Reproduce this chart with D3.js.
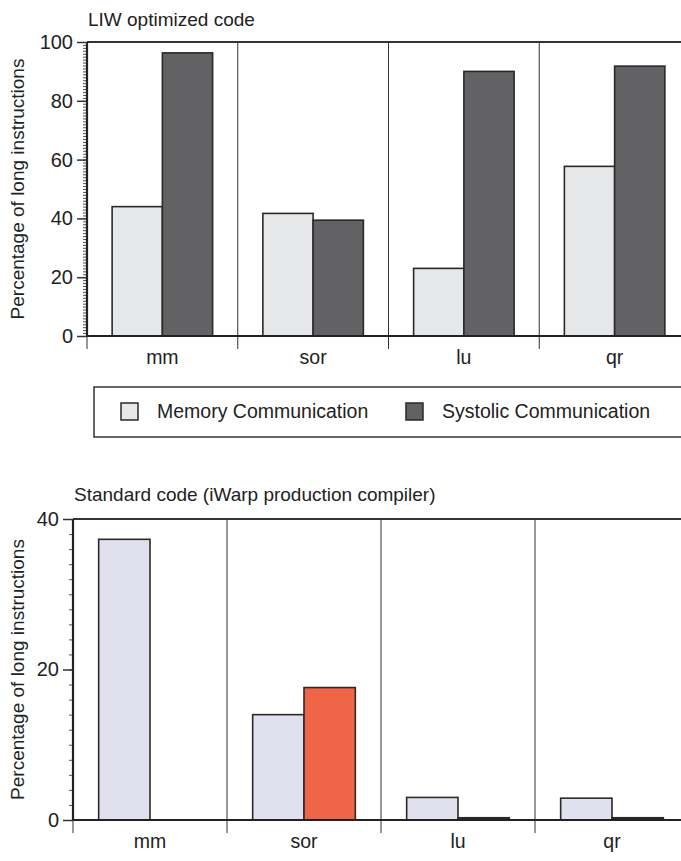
<!DOCTYPE html>
<html><head><meta charset="utf-8">
<script src="https://cdn.jsdelivr.net/npm/d3@7"></script>
<style>
body{margin:0;background:#fff;}
svg text{font-family:"Liberation Sans",Arial,Helvetica,sans-serif;fill:#222;}
</style></head>
<body><svg id="chart" width="681" height="861"></svg>
<script>
const categories = ["mm","sor","lu","qr"];
const seriesNames = ["Memory Communication","Systolic Communication"];
const liwMemory = [44, 41.7, 23, 57.7];
const liwSystolic = [96.3, 39.4, 90, 91.8];
const stdMemory = [37.3, 14, 3, 2.9];
const stdSystolic = [0, 17.6, 0.3, 0.3];
const liwTicks = [0,20,40,60,80,100];
const stdTicks = [0,20,40];
const liwTitle = "LIW optimized code";
const stdTitle = "Standard code (iWarp production compiler)";
const yLabel = "Percentage of long instructions";

const svg = d3.select("#chart");
const W = 681;

function panel(opt){
  const g = svg.append("g");
  const x = d3.scaleBand().domain(categories).range([opt.left, opt.right]).padding(0);
  const bw = x.bandwidth();
  const xs = d3.scaleBand().domain(seriesNames).range([bw/6, bw*5/6]).padding(0);
  const y = d3.scaleLinear().domain([0, opt.max]).range([opt.bottom, opt.top]);

  g.append("text").attr("x", opt.left+1).attr("y", opt.titleY)
    .attr("font-size", opt.titleSize).text(opt.title);

  g.append("text").attr("transform", `translate(${opt.labelX},${(opt.top+opt.bottom)/2}) rotate(-90)`)
    .attr("text-anchor","middle").attr("font-size", 19).text(yLabel);

  g.selectAll("line.div").data(categories).join("line")
    .attr("x1", d=>x(d)).attr("x2", d=>x(d))
    .attr("y1", opt.top).attr("y2", opt.bottom+13)
    .attr("stroke", "#333").attr("stroke-width", 1);

  const rows = categories.map((c,i)=>({cat:c, vals:[opt.s1[i], opt.s2[i]]}));
  const grp = g.selectAll("g.cat").data(rows).join("g")
    .attr("transform", d=>`translate(${x(d.cat)},0)`);
  grp.selectAll("rect").data(d=>d.vals.map((v,j)=>({name:seriesNames[j], v, j})))
    .join("rect")
    .attr("x", d=>xs(d.name)).attr("width", xs.bandwidth())
    .attr("y", d=>y(d.v)).attr("height", d=>Math.max(0, y(0)-y(d.v)))
    .attr("fill", d=>d.v<1?"#2a2a2a":opt.colors[d.j]).attr("stroke", "#2a2a2a").attr("stroke-width", 1.6)
    .attr("visibility", d=>d.v>0?"visible":"hidden");

  g.append("line").attr("x1", opt.left).attr("x2", W).attr("y1", opt.top).attr("y2", opt.top)
    .attr("stroke","#333").attr("stroke-width",2);

  const minorAxis = d3.axisLeft(y).tickValues(d3.range(0, opt.max+0.001, opt.minor)).tickSize(4).tickFormat("");
  const gm = g.append("g").attr("transform", `translate(${opt.left},0)`).call(minorAxis);
  gm.select(".domain").remove();
  gm.selectAll("line").attr("stroke","#555").attr("stroke-width",1);

  const yAxis = d3.axisLeft(y).tickValues(opt.ticks).tickSize(10).tickPadding(4);
  const ga = g.append("g").attr("transform", `translate(${opt.left},0)`).call(yAxis);
  ga.select(".domain").attr("stroke","#222").attr("stroke-width",2.2).attr("d", `M0,${opt.top}V${opt.bottom}`);
  ga.selectAll("line").attr("stroke","#333").attr("stroke-width",1.5);
  ga.selectAll("text").attr("font-size", 20).attr("fill","#222").attr("font-family","Liberation Sans, Arial, sans-serif");

  g.append("line").attr("x1", opt.left).attr("x2", W).attr("y1", y(0)).attr("y2", y(0))
    .attr("stroke","#222").attr("stroke-width",2.2);

  const xAxis = d3.axisBottom(x).tickSize(0).tickPadding(opt.catPad);
  const gx = g.append("g").attr("transform", `translate(0,${opt.bottom})`).call(xAxis);
  gx.select(".domain").remove();
  gx.selectAll("text").attr("font-size", 19.5).attr("fill","#222").attr("font-family","Liberation Sans, Arial, sans-serif");
}

panel({left:87, right:690, top:42, bottom:336, max:100, minor:1, ticks:liwTicks,
  s1:liwMemory, s2:liwSystolic, colors:["#e6e7e9","#626264"],
  title:liwTitle, titleY:26, titleSize:19, labelX:24, catPad:14});

panel({left:73, right:689, top:519, bottom:820, max:40, minor:2, ticks:stdTicks,
  s1:stdMemory, s2:stdSystolic, colors:["#e0e0ee","#f06548"],
  title:stdTitle, titleY:501, titleSize:19, labelX:24, catPad:14});

const lg = svg.append("g");
lg.append("rect").attr("x",94).attr("y",387).attr("width",W-94+5).attr("height",50)
  .attr("fill","none").attr("stroke","#333").attr("stroke-width",1.5);
const legendX = [121, 406];
const legendColors = ["#e6e7e9","#626264"];
seriesNames.forEach((n,i)=>{
  lg.append("rect").attr("x",legendX[i]).attr("y",403).attr("width",17).attr("height",17)
    .attr("fill",legendColors[i]).attr("stroke","#2a2a2a").attr("stroke-width",1.5);
  lg.append("text").attr("x",legendX[i]+36).attr("y",418).attr("font-size",19.5).text(n);
});
</script></body></html>
